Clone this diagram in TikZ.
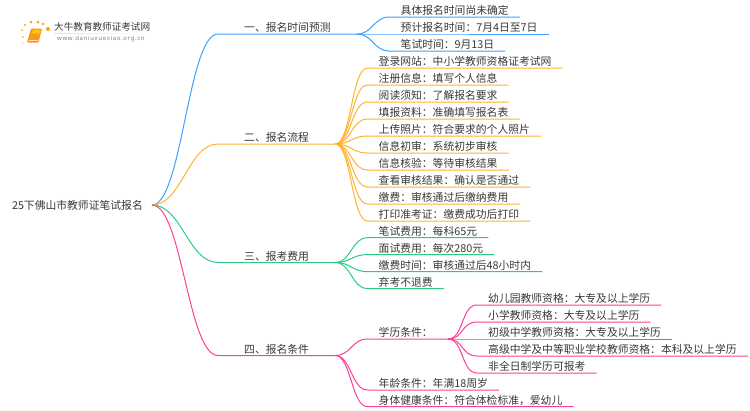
\documentclass[tikz,border=0pt]{standalone}
\usepackage{fontspec}
\setmainfont{Noto Sans CJK SC}
\newfontfamily\urlfont[LetterSpace=11]{Noto Sans}
\usetikzlibrary{positioning}
\definecolor{bluelink}{HTML}{3DA2FF}
\definecolor{orangelink}{HTML}{FFB22E}
\definecolor{greenlink}{HTML}{2CCB84}
\definecolor{pinklink}{HTML}{FF3F97}
\definecolor{inktext}{HTML}{383838}
\definecolor{bookorange}{HTML}{F79A1E}
\tikzset{
  topic/.style={anchor=south west, inner xsep=#1, inner ysep=1pt, text height=8pt, text depth=1pt,
    font=\fontsize{10.8pt}{12pt}\selectfont, text=inktext},
  topic/.default=11pt,
  link/.style={line width=1pt, to path={.. controls +(#1,0) and +(-#1,0) .. (\tikztotarget)}},
  link/.default=16,
}
\begin{document}
\begin{tikzpicture}[x=1pt, y=-1pt]
\useasboundingbox (0,0) rectangle (750,410);
% logo
\foreach \px/\py/\pr in {22/30/1, 25/25/1.2, 31/22/1.5, 38/22/1.5, 43/24/1.3, 48/29/2, 23/37/.9, 23/43/.7}
  \fill[orange!70!yellow] (\px,\py) circle (\pr);
\fill[bookorange, rounded corners=1pt] (31,28.5) -- (42,28.5) -- (38.5,42.5) -- (27,42.5) -- cycle;
\fill[orange!45!yellow] (33,30) -- (40.5,30) -- (39.5,33.5) -- (32,33.5) -- cycle;
\draw[orange!25!white, line width=.7pt] (28.5,40.8) -- (38,40.8);
\shade[left color=black!12, right color=white] (54,33) rectangle (150,33.8);
\node (logotitle) [anchor=west, inner sep=0pt, text=inktext, font=\fontsize{9.6pt}{11pt}\selectfont] at (54,27) {大牛教育教师证考试网};
\node (logourl) [anchor=west, inner sep=0pt, text=black!50, font=\urlfont\fontsize{6pt}{7pt}\selectfont] at (57,39) {www.daniuxuexiao.org.cn};
% root
\node (root) [anchor=east, inner xsep=9pt, inner ysep=1pt, text=inktext, font=\fontsize{10.8pt}{12pt}\selectfont] at (152,205) {25下佛山市教师证笔试报名};
% first level
\node (time) [topic=26pt] at (218,34) {一、报名时间预测};
\node (flow) [topic=26pt] at (218,144) {二、报名流程};
\node (cost) [topic=26pt] at (218,262.5) {三、报考费用};
\node (cond) [topic=26pt] at (218,355.5) {四、报名条件};
\draw[bluelink, link=30] (root.east) to (time.south west) -- (time.south east);
\draw[orangelink, link=30] (root.east) to (flow.south west) -- (flow.south east);
\draw[greenlink, link=30] (root.east) to (cost.south west) -- (cost.south east);
\draw[pinklink, link=30] (root.east) to (cond.south west) -- (cond.south east);
% time
\node (t1) [topic] at (389.5,17) {具体报名时间尚未确定};
\node (t2) [topic] at (389.5,34) {预计报名时间：7月4日至7日};
\node (t3) [topic] at (389.5,51) {笔试时间：9月13日};
\draw[bluelink, link] (time.south east) to (t1.south west) -- (t1.south east);
\draw[bluelink, link] (time.south east) to (t2.south west) -- (t2.south east);
\draw[bluelink, link] (time.south east) to (t3.south west) -- (t3.south east);
% flow
\node (f1) [topic] at (367.5,68) {登录网站：中小学教师资格证考试网};
\node (f2) [topic] at (367.5,85) {注册信息：填写个人信息};
\node (f3) [topic] at (367.5,102) {阅读须知：了解报名要求};
\node (f4) [topic] at (367.5,119) {填报资料：准确填写报名表};
\node (f5) [topic] at (367.5,136) {上传照片：符合要求的个人照片};
\node (f6) [topic] at (367.5,153) {信息初审：系统初步审核};
\node (f7) [topic] at (367.5,170) {信息核验：等待审核结果};
\node (f8) [topic] at (367.5,187) {查看审核结果：确认是否通过};
\node (f9) [topic] at (367.5,204) {缴费：审核通过后缴纳费用};
\node (f10) [topic] at (367.5,221) {打印准考证：缴费成功后打印};
\draw[orangelink, link] (flow.south east) to (f1.south west) -- (f1.south east);
\draw[orangelink, link] (flow.south east) to (f2.south west) -- (f2.south east);
\draw[orangelink, link] (flow.south east) to (f3.south west) -- (f3.south east);
\draw[orangelink, link] (flow.south east) to (f4.south west) -- (f4.south east);
\draw[orangelink, link] (flow.south east) to (f5.south west) -- (f5.south east);
\draw[orangelink, link] (flow.south east) to (f6.south west) -- (f6.south east);
\draw[orangelink, link] (flow.south east) to (f7.south west) -- (f7.south east);
\draw[orangelink, link] (flow.south east) to (f8.south west) -- (f8.south east);
\draw[orangelink, link] (flow.south east) to (f9.south west) -- (f9.south east);
\draw[orangelink, link] (flow.south east) to (f10.south west) -- (f10.south east);
% cost
\node (c1) [topic] at (367.5,237.7) {笔试费用：每科65元};
\node (c2) [topic] at (367.5,254.6) {面试费用：每次280元};
\node (c3) [topic] at (367.5,271.6) {缴费时间：审核通过后48小时内};
\node (c4) [topic] at (367.5,288.5) {弃考不退费};
\draw[greenlink, link] (cost.south east) to (c1.south west) -- (c1.south east);
\draw[greenlink, link] (cost.south east) to (c2.south west) -- (c2.south east);
\draw[greenlink, link] (cost.south east) to (c3.south west) -- (c3.south east);
\draw[greenlink, link] (cost.south east) to (c4.south west) -- (c4.south east);
% conditions
\node (d1) [topic, text width=58pt] at (367.5,339) {学历条件：};
\node (d2) [topic] at (367.5,390) {年龄条件：年满18周岁};
\node (d3) [topic] at (367.5,406.7) {身体健康条件：符合体检标准，爱幼儿};
\draw[pinklink, link] (cond.south east) to (d1.south west) -- (d1.south east);
\draw[pinklink, link] (cond.south east) to (d2.south west) -- (d2.south east);
\draw[pinklink, link] (cond.south east) to (d3.south west) -- (d3.south east);
\node (e1) [topic] at (477,305) {幼儿园教师资格：大专及以上学历};
\node (e2) [topic] at (477,322) {小学教师资格：大专及以上学历};
\node (e3) [topic] at (477,339) {初级中学教师资格：大专及以上学历};
\node (e4) [topic] at (477,356) {高级中学及中等职业学校教师资格：本科及以上学历};
\node (e5) [topic] at (477,373) {非全日制学历可报考};
\draw[pinklink, link] (d1.south east) to (e1.south west) -- (e1.south east);
\draw[pinklink, link] (d1.south east) to (e2.south west) -- (e2.south east);
\draw[pinklink, link] (d1.south east) to (e3.south west) -- (e3.south east);
\draw[pinklink, link] (d1.south east) to (e4.south west) -- (e4.south east);
\draw[pinklink, link] (d1.south east) to (e5.south west) -- (e5.south east);
\end{tikzpicture}
\end{document}
